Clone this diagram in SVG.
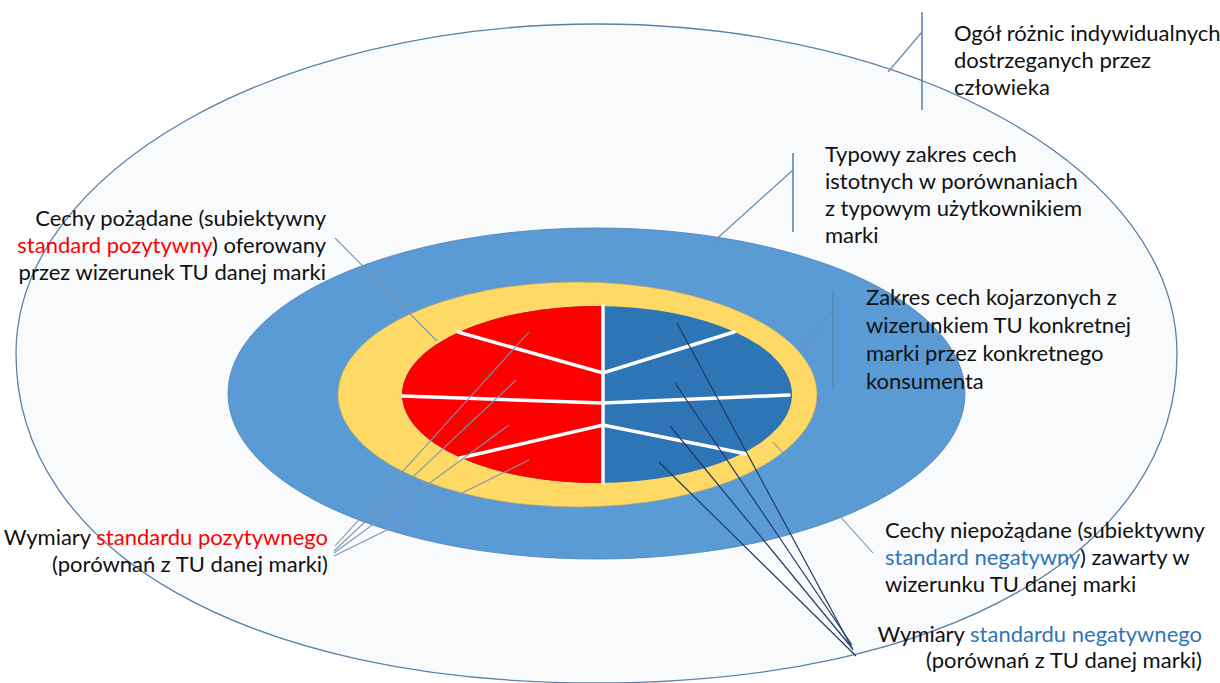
<svg xmlns="http://www.w3.org/2000/svg" width="1220" height="683" viewBox="0 0 1220 683">
<style>
text{font-family:Lato,"Open Sans","Liberation Sans",sans-serif;font-size:22px;fill:#111}
.r{fill:#ff0000}
.b{fill:#2e75b6}
.end{text-anchor:end}
.lead{stroke:#6b8fb3;stroke-width:1.3;fill:none}
.vbar{stroke:#5b86b0;stroke-width:1.6;fill:none}
.thin{stroke:#7d97b3;stroke-width:1.1;fill:none}
.navy{stroke:#203864;stroke-width:1.2;fill:none}
.div{stroke:#ffffff;stroke-width:3.5;fill:none;stroke-linecap:round}
</style>
<rect width="1220" height="683" fill="#ffffff"/>
<g id="outer">
<path d="M16,353.5 C16,171.5 276.1,24 596.5,24 C916.9,24 1177,171.5 1177,353.5 C1177,551.2 944.8,683 596.5,683 C248.2,683 16,551.2 16,353.5 Z" fill="#f9fafb" stroke="#5a81a8" stroke-width="1.3"/>
</g>
<g id="blue-ring">
<ellipse cx="596.5" cy="393.5" rx="368.5" ry="165.5" fill="#5b9bd5" stroke="#4a80b5" stroke-width="0.8"/>
</g>
<g id="yellow-ring">
<ellipse cx="577.5" cy="394.5" rx="239.5" ry="112.5" fill="#ffd966" stroke="#c9a94a" stroke-width="0.6"/>
</g>
<g id="inner">
<ellipse cx="597" cy="394.5" rx="195" ry="88.5" fill="#2e75b6"/>
<path d="M603,306.04 A195,88.5 0 1 0 603,482.96 Z" fill="#ff0000"/>
<line class="div" x1="603" y1="306" x2="603" y2="483"/>
<polyline class="div" points="458,332 603,373 734,332"/>
<polyline class="div" points="403,396 603,403 789,395"/>
<polyline class="div" points="460,458 603,425 747,454"/>
</g>
<g id="connectors">
<line class="vbar" x1="922" y1="12" x2="922" y2="110"/>
<line class="lead" x1="922" y1="32" x2="888" y2="72"/>
<line class="vbar" x1="793" y1="153" x2="793" y2="232"/>
<line class="lead" x1="793" y1="170" x2="712" y2="243"/>
<line class="vbar" x1="833" y1="290" x2="833" y2="390"/>
<line class="lead" x1="833" y1="310" x2="800" y2="350"/>
<line class="thin" x1="335" y1="238" x2="437" y2="341"/>
<line class="thin" x1="335" y1="546" x2="529" y2="332" stroke="#5f7286"/>
<line class="thin" x1="334" y1="551" x2="516" y2="380"/>
<line class="thin" x1="334" y1="553" x2="509" y2="425"/>
<line class="thin" x1="334" y1="556" x2="529" y2="460"/>
<line class="thin" x1="773" y1="442" x2="873" y2="553"/>
<line class="navy" x1="677" y1="323" x2="853" y2="650"/>
<line class="navy" x1="675" y1="383" x2="852" y2="645"/>
<line class="navy" x1="670" y1="426" x2="852" y2="648"/>
<line class="navy" x1="659" y1="462" x2="856" y2="656"/>
</g>
<g id="label-ogol">
<text x="954" y="41">Ogół różnic indywidualnych</text>
<text x="954" y="68">dostrzeganych przez</text>
<text x="954" y="95">człowieka</text>
</g>
<g id="label-typowy">
<text x="825" y="162">Typowy zakres cech</text>
<text x="825" y="189">istotnych w porównaniach</text>
<text x="825" y="216">z typowym użytkownikiem</text>
<text x="825" y="243">marki</text>
</g>
<g id="label-zakres">
<text x="866" y="305">Zakres cech kojarzonych z</text>
<text x="866" y="333">wizerunkiem TU konkretnej</text>
<text x="866" y="361">marki przez konkretnego</text>
<text x="866" y="389">konsumenta</text>
</g>
<g id="label-pozadane">
<text class="end" x="326" y="226">Cechy pożądane (subiektywny</text>
<text class="end" x="326" y="253"><tspan class="r">standard pozytywny</tspan>) oferowany</text>
<text class="end" x="326" y="280">przez wizerunek TU danej marki</text>
</g>
<g id="label-wym-poz">
<text class="end" x="328" y="545">Wymiary <tspan class="r">standardu pozytywnego</tspan></text>
<text class="end" x="328" y="572">(porównań z TU danej marki)</text>
</g>
<g id="label-niepozadane">
<text x="885" y="538">Cechy niepożądane (subiektywny</text>
<text x="885" y="565"><tspan class="b">standard negatywny</tspan>) zawarty w</text>
<text x="885" y="592">wizerunku TU danej marki</text>
</g>
<g id="label-wym-neg">
<text class="end" x="1202" y="642">Wymiary <tspan class="b">standardu negatywnego</tspan></text>
<text class="end" x="1202" y="668">(porównań z TU danej marki)</text>
</g>
</svg>
